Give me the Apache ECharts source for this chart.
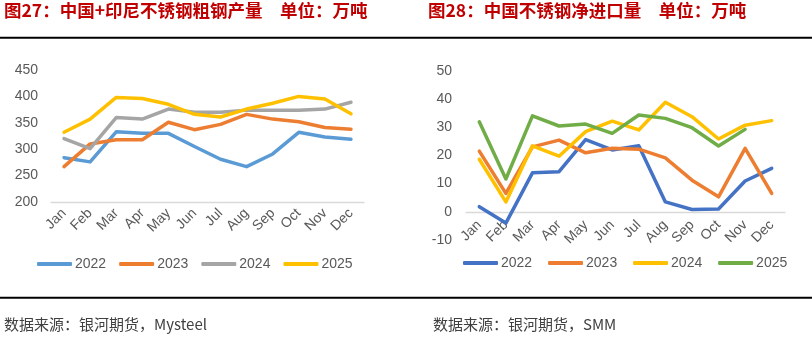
<!DOCTYPE html>
<html>
<head>
<meta charset="utf-8">
<script src="https://cdn.jsdelivr.net/npm/echarts@6/dist/echarts.min.js"></script>
<style>
  html, body { margin: 0; padding: 0; background: #fff; }
  #chart { width: 812px; height: 338px; }
</style>
</head>
<body>
<div id="chart"></div>
<script>
// Month categories shared by both panels
const months = ['Jan', 'Feb', 'Mar', 'Apr', 'May', 'Jun', 'Jul', 'Aug', 'Sep', 'Oct', 'Nov', 'Dec'];
const yearNames = ['2022', '2023', '2024', '2025'];

// Panel 27: China + Indonesia stainless crude steel output (10k t)
const output2022 = [284, 276, 333, 330, 330, 305, 281, 267, 291, 332, 323, 319];
const output2023 = [267, 310, 318, 318, 351, 337, 347, 366, 357, 352, 341, 338];
const output2024 = [320, 301, 360, 357, 376, 370, 370, 374, 374, 374, 376, 389];
const output2025 = [332, 357, 398, 396, 385, 366, 361, 376, 387, 400, 395, 367];
const outputTicks = [200, 250, 300, 350, 400, 450];

// Panel 28: China stainless steel net imports (10k t)
const imports2022 = [1.8, -4, 13.8, 14.2, 25.6, 21.9, 23.4, 3.5, 0.8, 1.0, 10.9, 15.4];
const imports2023 = [21.5, 6.5, 23.0, 25.4, 20.9, 22.5, 22.2, 19.1, 11.2, 5.3, 22.5, 6.5];
const imports2024 = [18.6, 3.5, 23.4, 19.7, 28.4, 32.1, 29.0, 38.8, 33.7, 25.8, 30.7, 32.3];
const imports2025 = [31.9, 11.6, 34.0, 30.4, 31.1, 27.8, 34.3, 33.1, 29.8, 23.3, 29.2, null];
const importTicks = [-10, 0, 10, 20, 30, 40, 50];

const leftColors = ['#5B9BD5', '#ED7D31', '#A5A5A5', '#FFC000'];
const rightColors = ['#4472C4', '#ED7D31', '#FFC000', '#70AD47'];

const labelFont = 'Arial, "Liberation Sans", sans-serif';
const cjkFont = '"Noto Sans CJK SC", "Noto Sans", sans-serif';
const tickColor = '#595959';

// Grid geometry
const leftGrid = { left: 51, top: 70, width: 313, height: 132 };
const rightGrid = { left: 466, top: 70.7, width: 319, height: 169.3 };
// The imports category axis sits on the zero line, which is one tick step above the grid bottom
const rightZeroShift = -rightGrid.height * (0 - importTicks[0]) / (importTicks[importTicks.length - 1] - importTicks[0]);

function lineSeries(name, data, color, idx) {
  return {
    name: name,
    type: 'line',
    data: data,
    xAxisIndex: idx,
    yAxisIndex: idx,
    showSymbol: false,
    symbol: 'none',
    connectNulls: false,
    lineStyle: { width: 3.5, color: color, cap: 'round', join: 'round' },
    itemStyle: { color: color },
    emphasis: { disabled: true },
    z: 3
  };
}

function xAxisFor(idx, margin, offset) {
  return {
    type: 'category',
    gridIndex: idx,
    data: months,
    boundaryGap: true,
    offset: offset,
    axisTick: { show: false },
    axisLine: { show: true, onZero: false, lineStyle: { color: '#D9D9D9', width: 1.3 } },
    axisLabel: {
      rotate: 45, margin: margin, interval: 0,
      color: tickColor, fontSize: 14, fontFamily: labelFont
    },
    splitLine: { show: false }
  };
}

function yAxisFor(idx, ticks, margin) {
  const step = ticks[1] - ticks[0];
  return {
    type: 'value',
    gridIndex: idx,
    min: ticks[0],
    max: ticks[ticks.length - 1],
    interval: step,
    axisLine: { show: false },
    axisTick: { show: false },
    splitLine: { show: false },
    axisLabel: { margin: margin, color: tickColor, fontSize: 14, fontFamily: labelFont }
  };
}

const chart = echarts.init(document.getElementById('chart'), null, { renderer: 'canvas' });

const series = [];
[output2022, output2023, output2024, output2025].forEach((d, i) => {
  series.push(lineSeries(yearNames[i], d, leftColors[i], 0));
});
[imports2022, imports2023, imports2024, imports2025].forEach((d, i) => {
  series.push(lineSeries(yearNames[i] + ' ', d, rightColors[i], 1));
});

const legendBase = {
  icon: 'roundRect',
  itemWidth: 35,
  itemHeight: 4,
  itemGap: 13,
  padding: 0,
  selectedMode: false,
  textStyle: { color: tickColor, fontSize: 14, fontFamily: labelFont, padding: [0, 0, 0, -2] }
};

chart.setOption({
  animation: false,
  backgroundColor: '#ffffff',
  grid: [leftGrid, rightGrid],
  xAxis: [xAxisFor(0, 9, 0), xAxisFor(1, 11, rightZeroShift)],
  yAxis: [yAxisFor(0, outputTicks, 13), yAxisFor(1, importTicks, 14)],
  legend: [
    Object.assign({}, legendBase, {
      left: 37, top: 257,
      data: yearNames.map((n, i) => ({ name: n, itemStyle: { color: leftColors[i] } }))
    }),
    Object.assign({}, legendBase, {
      left: 463, top: 256,
      itemGap: 12,
      data: yearNames.map((n, i) => ({ name: n + ' ', itemStyle: { color: rightColors[i] } }))
    })
  ],
  series: series,
  graphic: [
    {
      type: 'text', left: 4, top: 2,
      style: {
        text: '图27：中国+印尼不锈钢粗钢产量　单位：万吨',
        fill: '#C00000', fontSize: 17.5, fontWeight: 'bold', fontFamily: cjkFont
      }
    },
    {
      type: 'text', left: 428, top: 2,
      style: {
        text: '图28：中国不锈钢净进口量　单位：万吨',
        fill: '#C00000', fontSize: 17.5, fontWeight: 'bold', fontFamily: cjkFont
      }
    },
    { type: 'rect', shape: { x: 0, y: 36.7, width: 812, height: 2 }, style: { fill: '#000' } },
    { type: 'rect', shape: { x: 0, y: 296.7, width: 812, height: 2 }, style: { fill: '#000' } },
    {
      type: 'text', left: 4, top: 317,
      style: { text: '数据来源：银河期货，Mysteel', fill: '#404040', fontSize: 15, fontFamily: cjkFont }
    },
    {
      type: 'text', left: 433, top: 317,
      style: { text: '数据来源：银河期货，SMM', fill: '#404040', fontSize: 15, fontFamily: cjkFont }
    }
  ]
});
</script>
</body>
</html>
